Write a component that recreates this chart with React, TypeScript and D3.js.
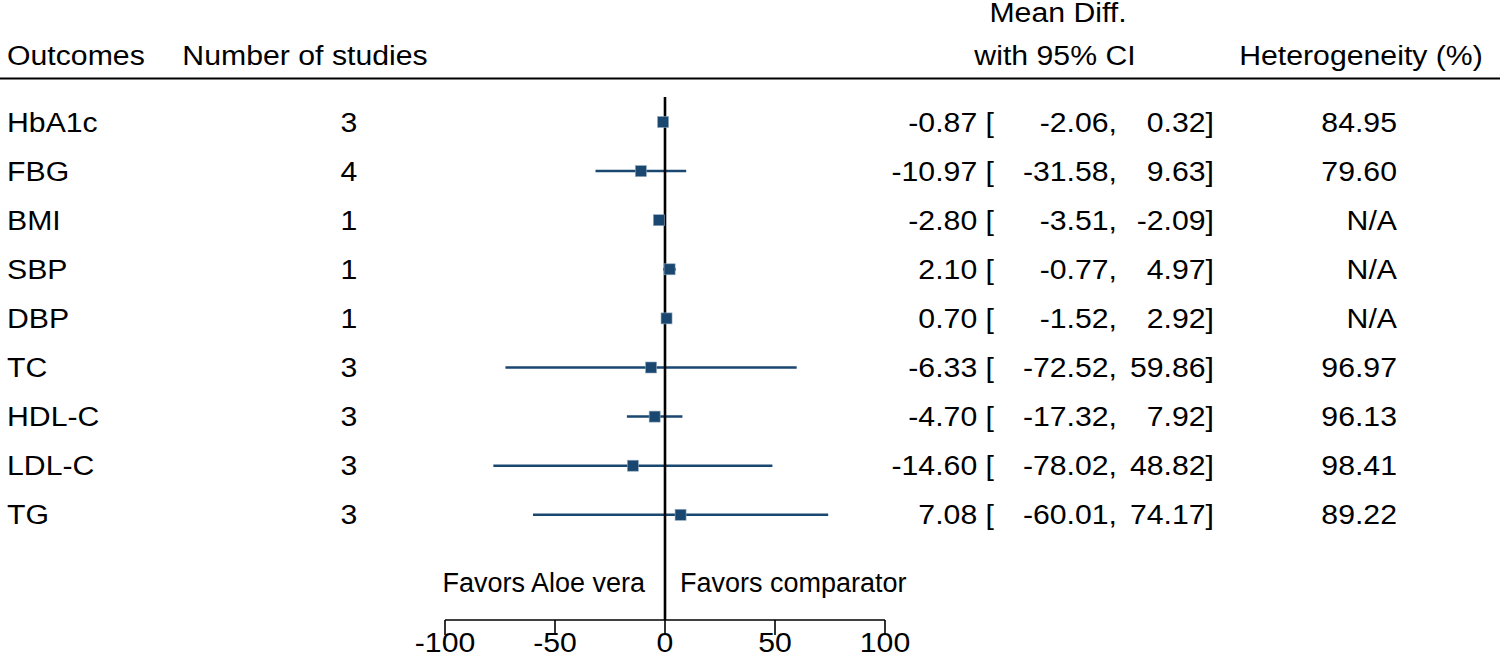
import { useEffect, useRef } from 'react'
import * as d3 from 'd3'

const OUTCOMES = ['HbA1c', 'FBG', 'BMI', 'SBP', 'DBP', 'TC', 'HDL-C', 'LDL-C', 'TG']
const STUDIES = [3, 4, 1, 1, 1, 3, 3, 3, 3]
const MEAN = [-0.87, -10.97, -2.8, 2.1, 0.7, -6.33, -4.7, -14.6, 7.08]
const LOWER = [-2.06, -31.58, -3.51, -0.77, -1.52, -72.52, -17.32, -78.02, -60.01]
const UPPER = [0.32, 9.63, -2.09, 4.97, 2.92, 59.86, 7.92, 48.82, 74.17]
const HETERO = ['84.95', '79.60', 'N/A', 'N/A', 'N/A', '96.97', '96.13', '98.41', '89.22']
const X_TICKS = [-100, -50, 0, 50, 100]

const NAVY = '#1a476f'
const FONT = '"Liberation Sans", Arial, Helvetica, sans-serif'
const FS = 27
const SX = 1.12

export default function App() {
  const svgRef = useRef<SVGSVGElement>(null)

  useEffect(() => {
    const svgEl = svgRef.current
    if (!svgEl) return
    document.body.style.margin = '0'
    const W = 1500, H = 653
    const svg = d3.select(svgEl)
    svg.selectAll('*').remove()
    svg.attr('width', W).attr('height', H)
    svg.append('rect').attr('width', W).attr('height', H).attr('fill', '#fff')

    const x = d3.scaleLinear().domain([-100, 100]).range([445, 885])
    const y = d3.scalePoint<string>().domain(OUTCOMES).range([122, 122 + 8 * 49.1])
    const axisY = 620

    const txt = (tx: number, ty: number, s: string, anchor = 'start', sx = SX) =>
      svg.append('text')
        .attr('transform', `translate(${tx},${ty}) scale(${sx},1)`)
        .attr('text-anchor', anchor)
        .attr('font-family', FONT).attr('font-size', FS).attr('fill', '#000')
        .text(s)

    // header
    txt(7, 65, 'Outcomes')
    txt(305, 65, 'Number of studies', 'middle')
    txt(1058, 22, 'Mean Diff.', 'middle')
    txt(1055, 65, 'with 95% CI', 'middle')
    txt(1361, 65, 'Heterogeneity (%)', 'middle')
    svg.append('line').attr('x1', 0).attr('x2', W).attr('y1', 78.5).attr('y2', 78.5)
      .attr('stroke', '#000').attr('stroke-width', 2.2)

    // rows text
    OUTCOMES.forEach((o, i) => {
      const by = (y(o) as number) + 9.5
      txt(7, by, o)
      txt(349, by, String(STUDIES[i]), 'middle')
      txt(994, by, `${MEAN[i].toFixed(2)} [`, 'end')
      txt(1117, by, `${LOWER[i].toFixed(2)},`, 'end')
      txt(1214, by, `${UPPER[i].toFixed(2)}]`, 'end')
      txt(1397, by, HETERO[i], 'end')
    })

    // CIs
    OUTCOMES.forEach((o, i) => {
      svg.append('line')
        .attr('x1', x(LOWER[i])).attr('x2', x(UPPER[i]))
        .attr('y1', y(o) as number).attr('y2', y(o) as number)
        .attr('stroke', NAVY).attr('stroke-width', 2.5)
    })

    // null line
    svg.append('line').attr('x1', x(0)).attr('x2', x(0)).attr('y1', 97).attr('y2', axisY)
      .attr('stroke', '#000').attr('stroke-width', 2.6)

    // markers
    const m = 11
    OUTCOMES.forEach((o, i) => {
      svg.append('rect')
        .attr('x', x(MEAN[i]) - m / 2).attr('y', (y(o) as number) - m / 2)
        .attr('width', m).attr('height', m)
        .attr('fill', NAVY).attr('stroke', '#8fa8bf').attr('stroke-width', 0.6)
    })

    // favors labels
    txt(x(0) - 20, 592, 'Favors Aloe vera', 'end', 1)
    txt(x(0) + 15, 592, 'Favors comparator', 'start', 1)

    // axis
    svg.append('line').attr('x1', x(-100)).attr('x2', x(100)).attr('y1', axisY).attr('y2', axisY)
      .attr('stroke', '#000').attr('stroke-width', 1.6)
    X_TICKS.forEach(t => {
      svg.append('line').attr('x1', x(t)).attr('x2', x(t)).attr('y1', axisY).attr('y2', axisY + 15)
        .attr('stroke', '#000').attr('stroke-width', 1.6)
      txt(x(t), 652, String(t), 'middle')
    })
  }, [])

  return <svg ref={svgRef} style={{ display: 'block' }} />
}
